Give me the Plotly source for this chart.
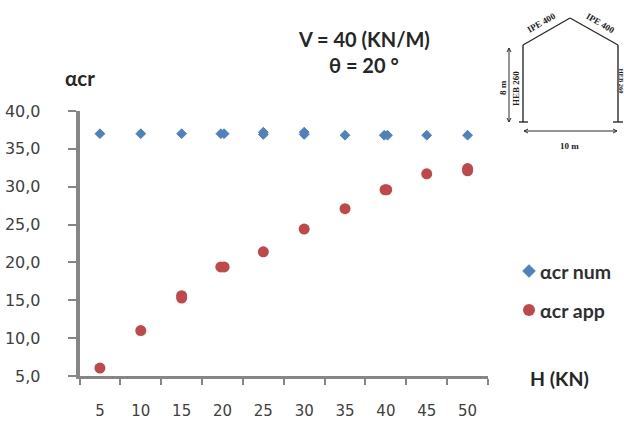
import plotly.graph_objects as go

W, H = 624, 423

h_ticks = [5, 10, 15, 20, 25, 30, 35, 40, 45, 50]
h_num = [5, 10, 15, 19.8, 20.2, 25, 25, 30, 30, 35, 39.8, 40.2, 45, 50]
a_num = [37.0, 37.0, 37.0, 37.0, 37.0, 37.2, 36.9, 37.2, 36.9, 36.8, 36.8, 36.8, 36.8, 36.8]
h_app = [5, 10, 15, 15, 19.8, 20.2, 25, 30, 35, 39.9, 40.1, 45, 50, 50]
a_app = [6.05, 11.0, 15.6, 15.3, 19.4, 19.4, 21.4, 24.4, 27.1, 29.6, 29.6, 31.7, 32.4, 32.1]
y_ticks = [5, 10, 15, 20, 25, 30, 35, 40]
legend_names = ["αcr num", "αcr app"]

BLUE = "#4F81BD"
RED = "#C0484A"
AXIS = "#868686"
TEXT = "#404040"
UI = "Lato, Open Sans, sans-serif"


def px(x):
    return x / W


def py(y):
    return 1 - y / H


fig = go.Figure()
fig.add_trace(go.Scatter(x=h_num, y=a_num, mode="markers", name=legend_names[0],
                         marker=dict(symbol="diamond", size=7.5, color=BLUE,
                                     line=dict(color=BLUE, width=1))))
fig.add_trace(go.Scatter(x=h_app, y=a_app, mode="markers", name=legend_names[1],
                         marker=dict(symbol="circle", size=11, color=RED)))

shapes = []


def seg(x0, y0, x1, y1, w=1.4, c="#2b2b2b"):
    shapes.append(dict(type="line", xref="paper", yref="paper", x0=px(x0), y0=py(y0),
                       x1=px(x1), y1=py(y1), line=dict(color=c, width=w)))


# inset frame schematic
seg(523, 122, 523, 45)
seg(523, 45, 570, 18)
seg(570, 18, 618, 45)
seg(618, 45, 618, 122)
seg(519, 122, 528, 122)
seg(613, 122, 623, 122)
seg(524, 131, 617, 131, 1.0)
seg(509, 48, 509, 122, 1.0)
for (x0, y0, x1, y1) in [(524, 131, 528, 129), (524, 131, 528, 133), (617, 131, 613, 129),
                         (617, 131, 613, 133), (509, 48, 507, 52), (509, 48, 511, 52),
                         (509, 122, 507, 118), (509, 122, 511, 118)]:
    seg(x0, y0, x1, y1, 1.0)

# legend keys
shapes.append(dict(type="path", xref="paper", yref="paper",
                   path=f"M {px(522.5)} {py(271)} L {px(529)} {py(264.5)} L {px(535.5)} {py(271)} L {px(529)} {py(277.5)} Z",
                   fillcolor=BLUE, line=dict(color=BLUE, width=0.5)))
shapes.append(dict(type="circle", xref="paper", yref="paper",
                   x0=px(523), x1=px(535), y0=py(316), y1=py(304),
                   fillcolor=RED, line=dict(color=RED, width=0)))

ann = []


def text(x, y, s, size, font=UI, color=TEXT, bold=False, angle=0, anchor="center"):
    ann.append(dict(xref="paper", yref="paper", x=px(x), y=py(y), text=f"<b>{s}</b>" if bold else s,
                    showarrow=False, xanchor=anchor, yanchor="middle", textangle=angle,
                    font=dict(family=font, size=size, color=color)))


text(364, 39, "V = 40 (KN/M)", 20, color="#262626", bold=True)
text(364, 65, "θ = 20 °", 20, color="#262626", bold=True)
text(80, 78, "αcr", 20.5, color="#262626", bold=True)
text(559, 378, "H (KN)", 19.5, color="#262626", bold=True)
text(537.5, 271, legend_names[0], 19.5, color="#303030", bold=True, anchor="left")
text(537.5, 310, legend_names[1], 19.5, color="#303030", bold=True, anchor="left")
SER = "Liberation Serif, DejaVu Serif, serif"
text(541, 23, "IPE 400", 9, SER, "#222222", True, -30)
text(600, 23, "IPE 400", 9, SER, "#222222", True, 30)
text(503, 88, "8 m", 9, SER, "#222222", True, -90)
text(516, 89, "HEB 260", 9, SER, "#222222", True, -90)
text(620.5, 81, "HEB 260", 6.5, SER, "#222222", True, 90)
text(569, 146, "10 m", 9, SER, "#222222", True)

fig.update_layout(
    width=W, height=H, autosize=False,
    margin=dict(l=0, r=0, t=0, b=0),
    paper_bgcolor="white", plot_bgcolor="white",
    separators=", ",
    font=dict(family="DejaVu Sans", size=15, color=TEXT),
    showlegend=False,
    shapes=shapes, annotations=ann,
    xaxis=dict(domain=[px(79.5), px(488)], range=[2.5, 52.5], tickmode="array",
               tickvals=h_ticks, ticktext=[str(v) for v in h_ticks],
               ticks="outside", ticklen=19, tickcolor="rgba(0,0,0,0)",
               showgrid=False, zeroline=False, showline=True, linecolor=AXIS, linewidth=2.5,
               minor=dict(tick0=2.5, dtick=5, ticks="outside", ticklen=6, tickwidth=1.5,
                          tickcolor=AXIS, showgrid=False),
               tickfont=dict(family="DejaVu Sans", size=15, color=TEXT), automargin=False),
    yaxis=dict(domain=[py(376), py(111)], range=[5, 40], tickmode="array",
               tickvals=y_ticks, tickformat=".1f",
               ticks="outside", ticklen=8, tickwidth=1.5, tickcolor=AXIS,
               ticklabelstandoff=24,
               showgrid=False, zeroline=False, showline=True, linecolor=AXIS, linewidth=3.5,
               tickfont=dict(family="DejaVu Sans", size=16, color=TEXT), automargin=False),
)

fig.write_html("out.html", config=dict(displayModeBar=False),
               post_script="document.body.style.margin='0';document.body.style.overflow='hidden';")
